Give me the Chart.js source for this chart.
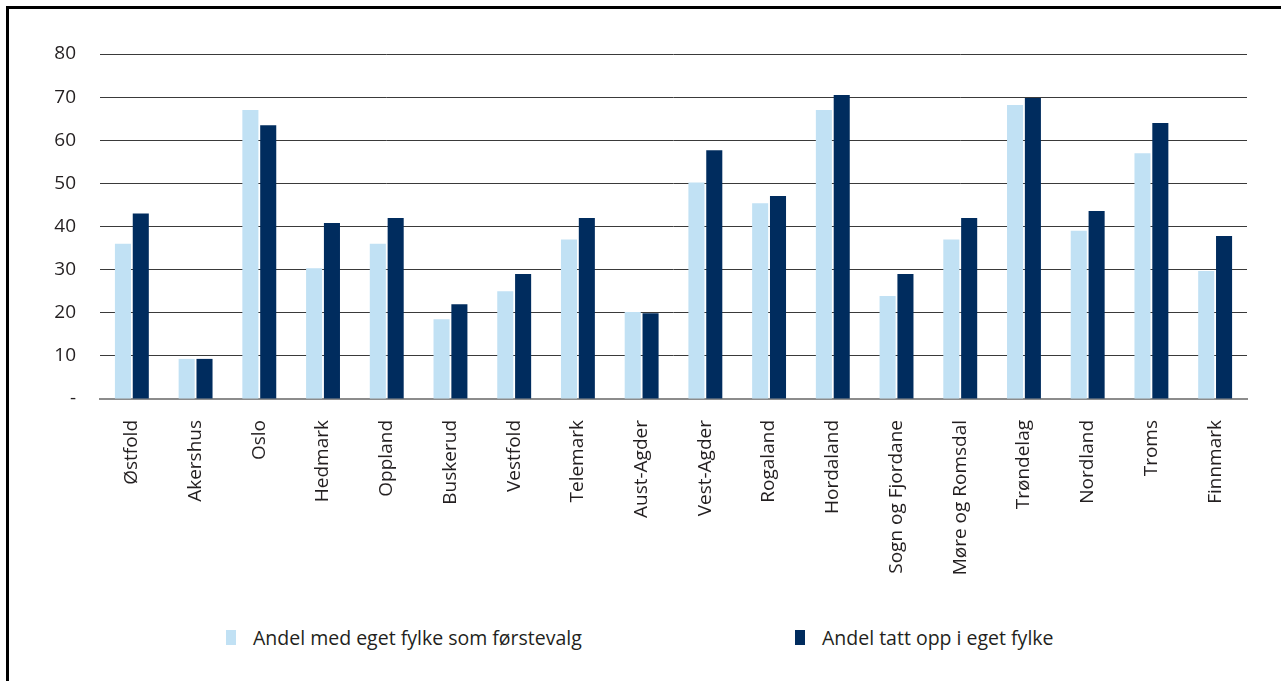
<!DOCTYPE html>
<html>
<head>
<meta charset="utf-8">
<script src="https://cdn.jsdelivr.net/npm/chart.js@4"></script>
<style>
  html, body { margin: 0; padding: 0; background: #fff; }
  body { width: 1281px; height: 681px; position: relative; overflow: hidden; font-family: "Open Sans", sans-serif; }
  .ramme { position: absolute; left: 6px; top: 6px; width: 1400px; height: 800px; border: 3px solid #000; box-sizing: border-box; }
  .wrap { position: absolute; left: 0; top: 0; width: 1281px; height: 600px; }
  .legend { position: absolute; top: 624px; left: 0; width: 1281px; height: 26px; font-size: 19.5px; color: #231f20; }
  .legend .item { position: absolute; top: 0; display: flex; align-items: center; }
  .legend .box { width: 10px; height: 15px; margin-right: 17px; }
</style>
</head>
<body>
<div class="ramme"></div>
<div class="wrap"><canvas id="fylkeChart"></canvas></div>
<div class="legend" id="legend"></div>
<script>
// Fylker
const fylker = ['Østfold', 'Akershus', 'Oslo', 'Hedmark', 'Oppland', 'Buskerud', 'Vestfold', 'Telemark',
    'Aust-Agder', 'Vest-Agder', 'Rogaland', 'Hordaland', 'Sogn og Fjordane', 'Møre og Romsdal',
    'Trøndelag', 'Nordland', 'Troms', 'Finnmark'];

// Andel med eget fylke som førstevalg
const forstevalg = [36, 9.3, 67, 30.3, 36, 18.5, 25, 37, 20.2, 50.2, 45.4, 67, 23.9, 37, 68.2, 39, 57, 29.7];

// Andel tatt opp i eget fylke
const tattOpp = [43, 9.3, 63.5, 40.8, 42, 22, 29, 42, 19.9, 57.7, 47.1, 70.5, 29, 42, 69.8, 43.6, 64, 37.8];

const serieNavn = ['Andel med eget fylke som førstevalg', 'Andel tatt opp i eget fylke'];
const yTicks = [0, 10, 20, 30, 40, 50, 60, 70, 80];

const lysBla = '#c1e1f4';
const morkBla = '#002c5e';
const tekstFarge = '#231f20';

const ctx = document.getElementById('fylkeChart').getContext('2d');
const chart = new Chart(ctx, {
    type: 'bar',
    data: {
        labels: fylker,
        datasets: [{
            label: serieNavn[0],
            data: forstevalg,
            backgroundColor: lysBla,
            categoryPercentage: 0.56,
            barPercentage: 0.9
        }, {
            label: serieNavn[1],
            data: tattOpp,
            backgroundColor: morkBla,
            categoryPercentage: 0.56,
            barPercentage: 0.9
        }]
    },
    options: {
        responsive: true,
        maintainAspectRatio: false,
        animation: false,
        layout: { padding: { left: 0, top: 54, right: 34, bottom: 0 } },
        plugins: {
            legend: { display: false },
            tooltip: { enabled: false }
        },
        scales: {
            x: {
                grid: { display: false },
                border: { display: true, color: '#8c8c8c', width: 2 },
                ticks: {
                    color: tekstFarge,
                    font: { family: 'Open Sans', size: 19 },
                    minRotation: 90,
                    maxRotation: 90,
                    padding: 13,
                    autoSkip: false
                },
                afterFit: scale => { scale.height = 201; }
            },
            y: {
                min: 0,
                max: 80,
                afterBuildTicks: scale => { scale.ticks = yTicks.map(v => ({ value: v })); },
                grid: { color: '#3a3a3a', lineWidth: 1, drawTicks: false },
                border: { display: false },
                ticks: {
                    color: tekstFarge,
                    font: { family: 'Open Sans', size: 19 },
                    padding: 24,
                    callback: v => v === 0 ? '-' : v
                },
                afterFit: scale => { scale.width = 100; }
            }
        }
    }
});

// Legend bygges fra datasettene
const legendPos = [226, 795];
const legendEl = document.getElementById('legend');
chart.data.datasets.forEach((ds, i) => {
    const item = document.createElement('div');
    item.className = 'item';
    item.style.left = legendPos[i] + 'px';
    item.innerHTML = '<span class="box" style="background:' + ds.backgroundColor + '"></span><span>' + ds.label + '</span>';
    legendEl.appendChild(item);
});
</script>
</body>
</html>
